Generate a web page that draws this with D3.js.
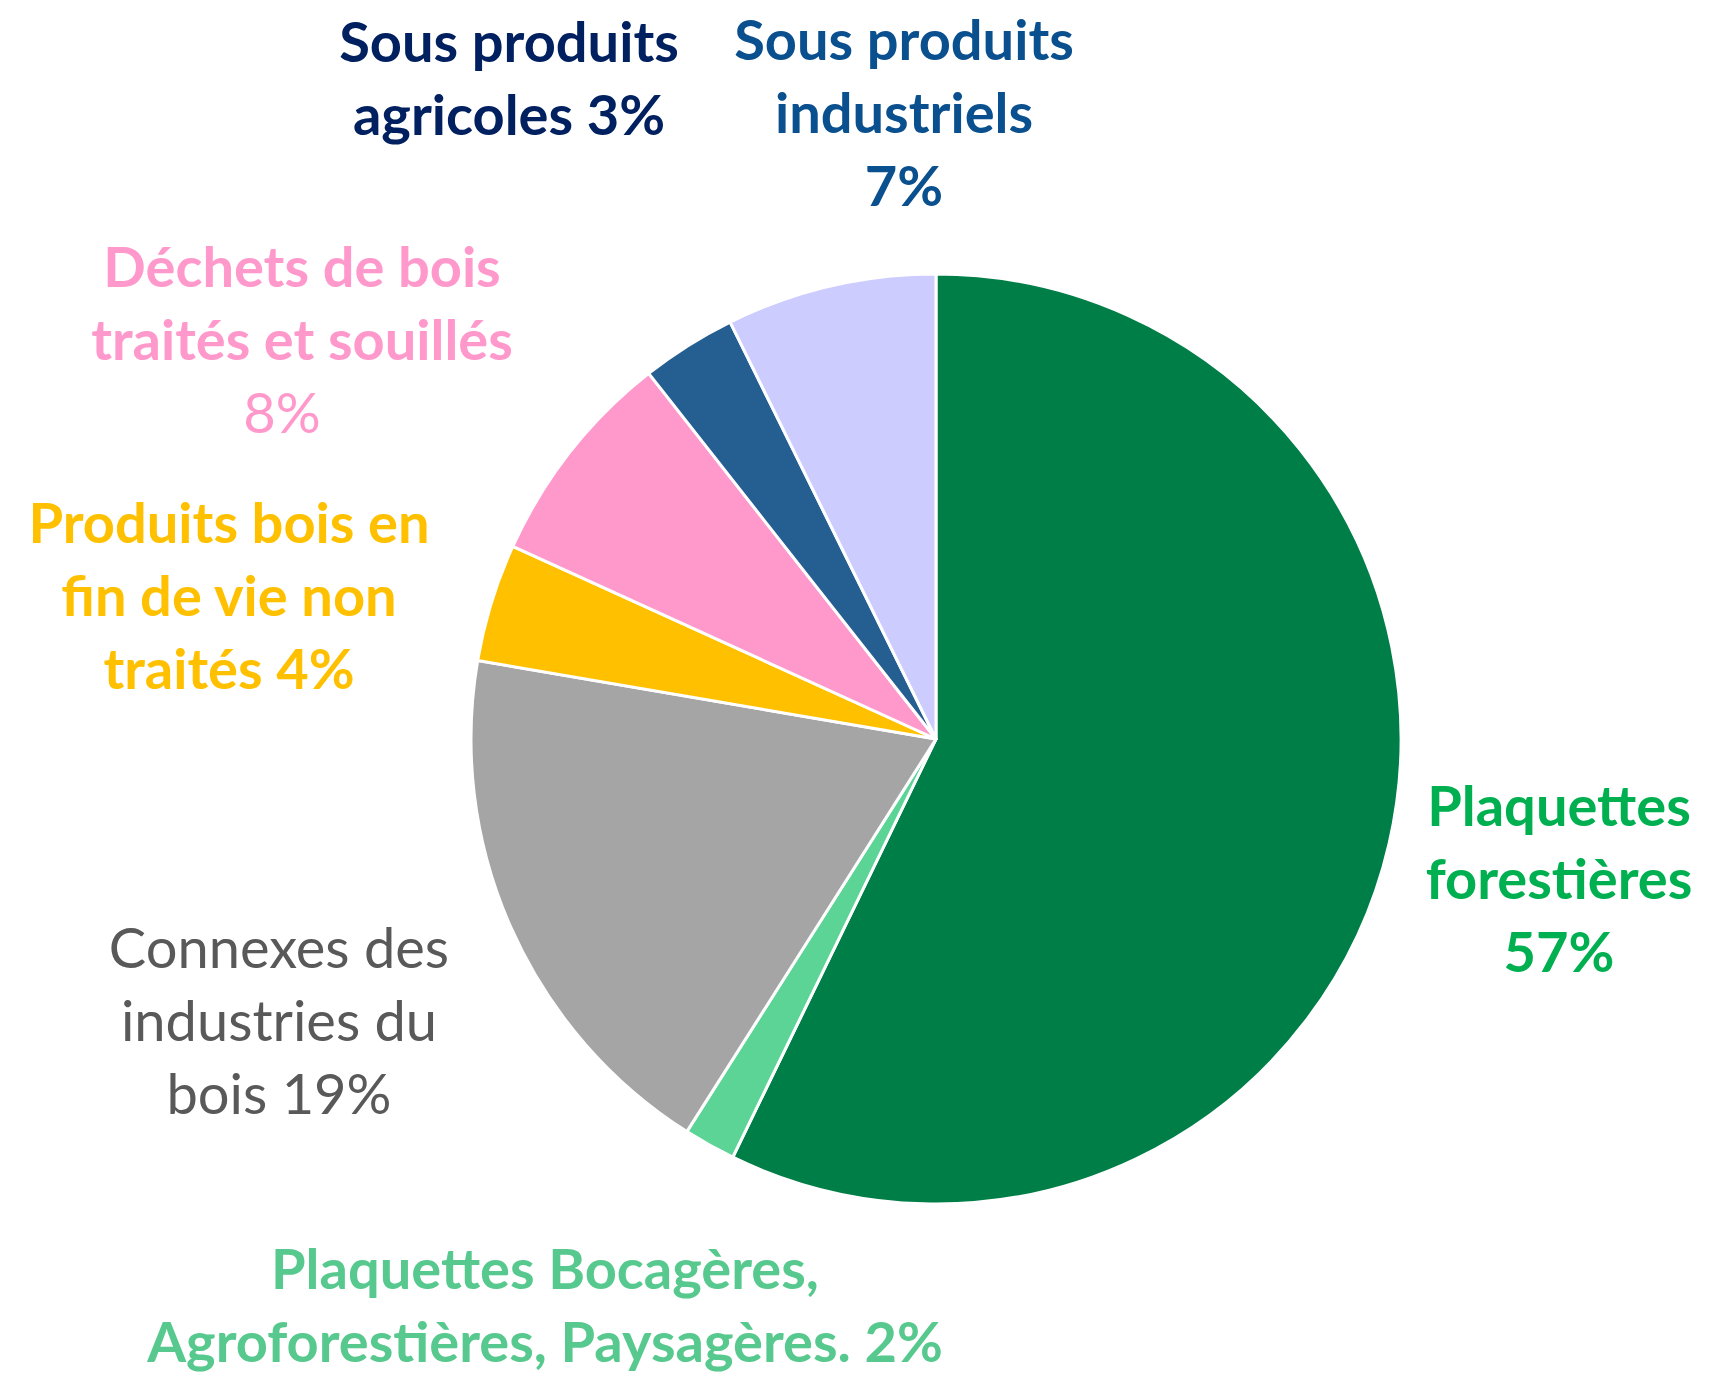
<!DOCTYPE html>
<html>
<head>
<meta charset="utf-8">
<script src="https://cdn.jsdelivr.net/npm/d3@7"></script>
<style>
	html, body { margin: 0; padding: 0; background: #fff; }
	svg { display: block; }
	text { font-family: Lato, "Open Sans", sans-serif; }
</style>
</head>
<body>
<div id="chart"></div>
<script>
// slices, clockwise from 12 o'clock
const categories = [
	'Plaquettes forestières',
	'Plaquettes Bocagères, Agroforestières, Paysagères',
	'Connexes des industries du bois',
	'Produits bois en fin de vie non traités',
	'Déchets de bois traités et souillés',
	'Sous produits agricoles',
	'Sous produits industriels'
];
const values = [57.2, 1.8, 18.7, 4.1, 7.6, 3.3, 7.3];
const sliceColors = ['#007E47', '#5BD496', '#A5A5A5', '#FFC000', '#FF99CC', '#255E91', '#CCCCFF'];

// label text, one entry per slice, split into lines
const labelLines = [
	['Plaquettes', 'forestières', '57%'],
	['Plaquettes Bocagères,', 'Agroforestières, Paysagères. 2%'],
	['Connexes des', 'industries du', 'bois 19%'],
	['Produits bois en', 'fin de vie non', 'traités 4%'],
	['Déchets de bois', 'traités et souillés', '8%'],
	['Sous produits', 'agricoles 3%'],
	['Sous produits', 'industriels', '7%']
];
const labelColors = ['#00B050', '#58C98E', '#595959', '#FFC000', '#FF99CC', '#002060', '#0A4F8E'];

const width = 1710;
const height = 1379;
const cx = 936;
const cy = 739;
const radius = 465;
const fontSize = 56;
const lineGap = 73;

// where each label block sits: centre x, first baseline
const labelPos = [
	{x: 1559, y: 826},
	{x: 545, y: 1289},
	{x: 279, y: 968},
	{x: 229, y: 543},
	{x: 302, y: 287},
	{x: 509, y: 62},
	{x: 904, y: 60}
];

const svg = d3
	.select('#chart')
	.append('svg')
	.attr('width', width)
	.attr('height', height);

const pie = d3.pie().sort(null).value(d => d);
const arc = d3.arc().innerRadius(0).outerRadius(radius);

svg.append('g')
	.attr('transform', `translate(${cx},${cy})`)
	.selectAll('path')
	.data(pie(values))
	.enter()
	.append('path')
	.attr('d', arc)
	.attr('fill', (d, i) => sliceColors[i])
	.attr('stroke', '#fff')
	.attr('stroke-width', 3)
	.attr('stroke-linejoin', 'round');

const labels = svg
	.append('g')
	.selectAll('text')
	.data(labelLines)
	.enter()
	.append('text')
	.attr('text-anchor', 'middle')
	.attr('font-size', fontSize)
	.attr('font-weight', (d, i) => (i === 2 ? 400 : 700))
	.attr('fill', (d, i) => labelColors[i])
	.attr('x', (d, i) => labelPos[i].x)
	.attr('y', (d, i) => labelPos[i].y);

labels.each(function(lines, i) {
	const t = d3.select(this);
	lines.forEach((line, j) => {
		const span = t
			.append('tspan')
			.attr('x', labelPos[i].x)
			.attr('y', labelPos[i].y + j * lineGap)
			.text(line);
		// the pink percentage is set in regular weight, nudged left
		if (i === 4 && j === 2) {
			span.attr('font-weight', 400).attr('x', labelPos[i].x - 20);
		}
	});
});
</script>
</body>
</html>
